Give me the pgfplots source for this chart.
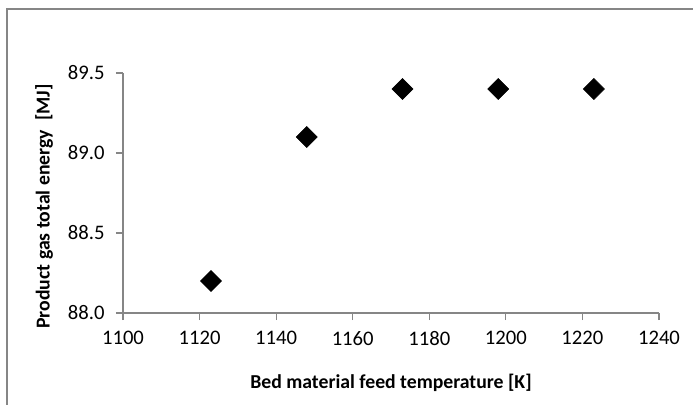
\documentclass[border=0pt]{standalone}
\usepackage{pgfplots}
\pgfplotsset{compat=1.18}
\usepackage{fontspec}
\setmainfont{Carlito}
\definecolor{axgray}{RGB}{134,134,134}

\begin{document}
\begin{tikzpicture}
  % page frame (only top and left edges visible); 1px = 0.75pt
  \useasboundingbox (0pt,0pt) rectangle (519.75pt,303pt);
  \draw[axgray, line width=1.5pt] (5.25pt,-5pt) -- (5.25pt,296.25pt) -- (525pt,296.25pt);

  \begin{axis}[
      at={(92.25pt,68.25pt)}, anchor=origin,
      scale only axis,
      width=402pt, height=180pt,
      xmin=1100, xmax=1240,
      ymin=88, ymax=89.5,
      xtick={1100,1120,...,1240},
      ytick={88,88.5,89,89.5},
      axis x line*=bottom,
      axis y line*=left,
      axis line style={axgray, line width=0.9pt, -},
      tick style={axgray, line width=0.9pt},
      tick align=outside,
      major tick length=5.25pt,
      xticklabel style={yshift=-5pt},
      yticklabel style={xshift=-5pt},
      /pgf/number format/assume math mode=true,
      /pgf/number format/.cd, 1000 sep={},
      /pgfplots/.cd,
      yticklabel={\pgfmathprintnumber[fixed,fixed zerofill,precision=1]{\tick}},
      ticklabel style={font=\fontsize{15.5}{18}\selectfont, black},
      xlabel={\textbf{Bed material feed temperature [K]}},
      ylabel={\textbf{Product gas total energy\ \ [MJ]}},
      label style={font=\fontsize{14.8}{17}\selectfont, black},
      xlabel style={at={(axis description cs:0.5,-0.29)}, anchor=center},
      ylabel style={at={(axis description cs:-0.147,0.444)}, anchor=center},
      clip=false,
    ]
    \addplot[only marks, mark=square*, mark size=5.6pt, mark options={fill=black, draw=black, rotate=45}]
      coordinates {
        (1123, 88.2) (1148, 89.1) (1173, 89.4) (1198, 89.4) (1223, 89.4)
      };
  \end{axis}
\end{tikzpicture}
\end{document}
